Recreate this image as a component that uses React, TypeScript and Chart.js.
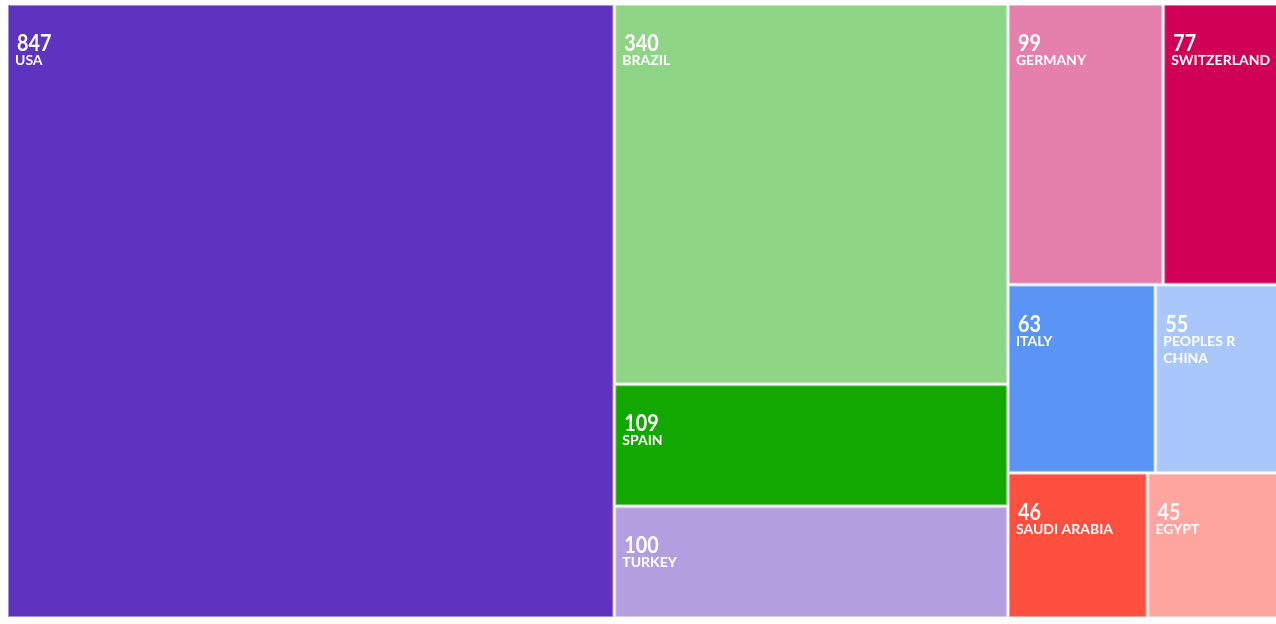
import React, { useEffect, useRef } from "react";
import { Chart, registerables } from "chart.js";

Chart.register(...registerables);

const countries = [
  "USA",
  "BRAZIL",
  "SPAIN",
  "TURKEY",
  "GERMANY",
  "SWITZERLAND",
  "ITALY",
  "PEOPLES R CHINA",
  "SAUDI ARABIA",
  "EGYPT",
];
const counts = [847, 340, 109, 100, 99, 77, 63, 55, 46, 45];
const colors = [
  "#5e33bf",
  "#8ed685",
  "#13a800",
  "#b39fe0",
  "#e57fab",
  "#d10057",
  "#5a94f5",
  "#a9c7fb",
  "#ff4f3f",
  "#ffa59f",
];

const SQUARE_RATIO = 0.5 * (1 + Math.sqrt(5));

type Node = { i: number; area: number };
type Box = { x: number; y: number; w: number; h: number };

function worst(row: Node[], rowArea: number, fixed: number) {
  let mx = 0;
  let mn = Infinity;
  for (const n of row) {
    if (n.area > mx) mx = n.area;
    if (n.area < mn) mn = n.area;
  }
  const sq = rowArea * rowArea;
  const f = fixed * fixed * SQUARE_RATIO;
  return sq ? Math.max((f * mx) / sq, sq / (f * mn)) : Infinity;
}

function squarify(values: number[], width: number, height: number): Box[] {
  const total = values.reduce((a, b) => a + b, 0);
  const nodes: Node[] = values
    .map((v, i) => ({ i, area: (v * width * height) / total }))
    .sort((a, b) => b.area - a.area);
  const out: Box[] = new Array(values.length);
  const rect = { x: 0, y: 0, w: width, h: height };

  const position = (row: Node[], rowArea: number, fixed: number, flush: boolean) => {
    const horiz = fixed === rect.w;
    let last = horiz ? rect.x : rect.y;
    const span = horiz ? rect.w : rect.h;
    const otherMax = horiz ? rect.h : rect.w;
    let other = fixed ? rowArea / fixed : 0;
    if (flush || other > otherMax) other = otherMax;
    row.forEach((n, k) => {
      const step = other ? n.area / other : 0;
      const remain = (horiz ? rect.x : rect.y) + span - last;
      const mod = k === row.length - 1 || remain < step ? remain : step;
      if (horiz) out[n.i] = { x: last, y: rect.y, w: mod, h: other };
      else out[n.i] = { x: rect.x, y: last, w: other, h: mod };
      last += mod;
    });
    if (horiz) {
      rect.y += other;
      rect.h -= other;
    } else {
      rect.x += other;
      rect.w -= other;
    }
  };

  let row: Node[] = [];
  let rowArea = 0;
  let best = Infinity;
  let fixed = Math.min(rect.w, rect.h);
  let idx = 0;
  while (idx < nodes.length) {
    const n = nodes[idx];
    row.push(n);
    rowArea += n.area;
    const score = worst(row, rowArea, fixed);
    if (score <= best) {
      idx++;
      best = score;
    } else {
      const p = row.pop() as Node;
      rowArea -= p.area;
      position(row, rowArea, fixed, false);
      fixed = Math.min(rect.w, rect.h);
      row = [];
      rowArea = 0;
      best = Infinity;
    }
  }
  if (row.length) position(row, rowArea, fixed, true);
  return out;
}

function lighten(hex: string, t: number) {
  const n = parseInt(hex.slice(1), 16);
  const r = (n >> 16) & 255;
  const g = (n >> 8) & 255;
  const b = n & 255;
  const m = (c: number) => Math.round(c + (255 - c) * t);
  return `rgb(${m(r)},${m(g)},${m(b)})`;
}

function wrap(ctx: CanvasRenderingContext2D, text: string, maxW: number) {
  const words = text.split(" ");
  const lines: string[] = [];
  let cur = "";
  for (const w of words) {
    const t = cur ? cur + " " + w : w;
    if (cur && ctx.measureText(t).width > maxW) {
      lines.push(cur);
      cur = w;
    } else cur = t;
  }
  if (cur) lines.push(cur);
  return lines;
}

const treemapPlugin = {
  id: "treemapPlugin",
  afterDatasetsDraw(chart: any) {
    const { ctx, chartArea: ca, scales } = chart;
    const xs = scales.x;
    const ys = scales.y;
    const boxes = squarify(counts, ca.width, ca.height);
    ctx.save();
    boxes.forEach((b, i) => {
      const x0 = xs.getPixelForValue(b.x / ca.width);
      const x1 = xs.getPixelForValue((b.x + b.w) / ca.width);
      const y0 = ys.getPixelForValue(b.y / ca.height);
      const y1 = ys.getPixelForValue((b.y + b.h) / ca.height);
      const w = x1 - x0;
      const h = y1 - y0;
      ctx.fillStyle = lighten(colors[i], 0.45);
      ctx.fillRect(x0 + 1, y0 + 1, w - 2, h - 2);
      ctx.fillStyle = colors[i];
      ctx.fillRect(x0 + 2, y0 + 2, w - 4, h - 4);

      const fl = x0 + 2;
      const ft = y0 + 2;
      ctx.fillStyle = "#ffffff";
      ctx.textAlign = "left";
      ctx.textBaseline = "alphabetic";
      ctx.font = "bold 23px Lato";
      ctx.save();
      ctx.translate(fl + 8, ft + 45);
      ctx.scale(0.86, 1);
      ctx.fillText(String(counts[i]), 0, 0);
      ctx.restore();

      ctx.font = "bold 14px Lato";
      const lines = wrap(ctx, countries[i], w - 16);
      lines.forEach((ln, k) => {
        ctx.fillText(ln, fl + 6, ft + 59 + k * 17);
      });
    });
    ctx.restore();
  },
};

export default function App() {
  const ref = useRef<HTMLCanvasElement | null>(null);
  useEffect(() => {
    if (!ref.current) return;
    const chart = new Chart(ref.current, {
      type: "scatter",
      data: { datasets: [{ data: [] }] },
      options: {
        responsive: false,
        maintainAspectRatio: false,
        animation: false,
        layout: { padding: { left: 7, top: 4, right: 6, bottom: 6 } },
        scales: {
          x: { type: "linear", min: 0, max: 1, display: false },
          y: { type: "linear", min: 0, max: 1, reverse: true, display: false },
        },
        plugins: { legend: { display: false }, tooltip: { enabled: false } },
      },
      plugins: [treemapPlugin],
    } as any);
    const fonts = (document as any).fonts;
    if (fonts && fonts.load) {
      Promise.all([fonts.load("bold 23px Lato"), fonts.load("bold 14px Lato")])
        .then(() => chart.draw())
        .catch(() => {});
    }
    return () => chart.destroy();
  }, []);
  return (
    <div
      style={{
        position: "fixed",
        left: 0,
        top: 0,
        width: 1276,
        height: 624,
        overflow: "hidden",
        background: "#ffffff",
      }}
    >
      <canvas ref={ref} width={1290} height={624} style={{ display: "block" }} />
    </div>
  );
}
